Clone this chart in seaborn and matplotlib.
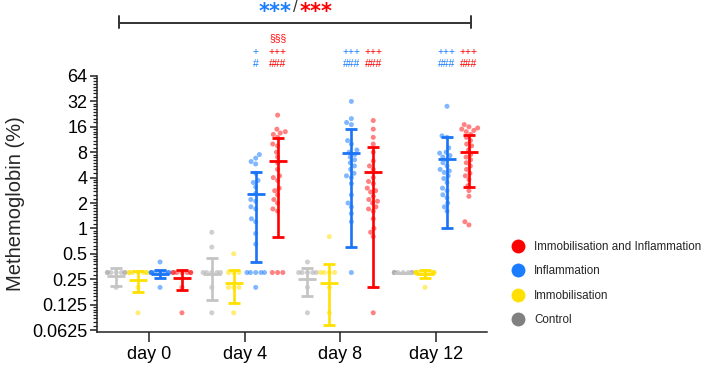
import warnings
warnings.filterwarnings("ignore")
import numpy as np
import pandas as pd
import matplotlib
matplotlib.use("Agg")
import matplotlib.pyplot as plt
from matplotlib.lines import Line2D
import seaborn as sns

# ---------------- data ----------------
days = ["day 0", "day 4", "day 8", "day 12"]
groups = ["Control", "Immobilisation", "Inflammation", "Immobilisation and Inflammation"]

control_vals = [
    [0.3, 0.3, 0.3, 0.3, 0.3, 0.3, 0.3, 0.2],
    [0.9, 0.6, 0.3, 0.3, 0.3, 0.3, 0.3, 0.2, 0.1],
    [0.4, 0.3, 0.3, 0.3, 0.3, 0.3, 0.2, 0.1],
    [0.3, 0.3, 0.3, 0.3, 0.3, 0.3, 0.3, 0.3],
]
immob_vals = [
    [0.3, 0.3, 0.3, 0.3, 0.3, 0.3, 0.3, 0.2, 0.1],
    [0.5, 0.3, 0.3, 0.3, 0.2, 0.2, 0.2, 0.1],
    [0.8, 0.3, 0.3, 0.3, 0.3, 0.2, 0.1],
    [0.3, 0.3, 0.3, 0.3, 0.3, 0.3, 0.3, 0.3, 0.3, 0.3, 0.2],
]
inflam_vals = [
    [0.4, 0.3, 0.3, 0.3, 0.3, 0.3, 0.3, 0.3, 0.3, 0.2],
    [7.5, 6.8, 6.2, 5.8, 4.5, 3.7, 3.5, 3.1, 2.6, 2.2, 2.1, 1.8, 1.7, 1.3,
     1.2, 0.87, 0.65, 0.3, 0.3, 0.3, 0.3, 0.3, 0.2],
    [32, 20, 18, 17, 11, 10, 8.5, 8, 7.5, 7, 6.5, 6, 5.5, 5, 4.5, 4.2, 4,
     3.4, 2.5, 2, 1.8, 1.5, 1.2, 0.3],
    [28, 12.5, 12, 9, 8, 7.8, 7.3, 7, 6.5, 6, 5.5, 5, 4.8, 4.6, 4.2, 3.9,
     3.5, 3.0, 2.8, 2.5, 2.3, 2.0, 1.8, 1.6],
]
imm_inf_vals = [
    [0.3, 0.3, 0.3, 0.3, 0.3, 0.3, 0.3, 0.2, 0.1],
    [22, 15, 14, 13.5, 13, 12, 10, 9.5, 8, 7, 6, 5, 4.2, 4.0, 3.7, 3.0,
     2.8, 2.5, 2.2, 2.0, 1.7, 1.6, 0.3, 0.3, 0.3],
    [19, 15, 12, 10, 8, 6.3, 5.5, 5, 4, 3.6, 3.4, 3, 2.8, 2.7, 2.4, 2.2,
     2.1, 2, 1.8, 1.7, 1.6, 1.3, 1.0, 0.9, 0.8, 0.1],
    [17, 16, 15.5, 15, 14.5, 14, 13, 12, 11, 10, 9.5, 8.5, 7.5, 7, 6.5, 6,
     5.5, 5, 4.5, 4.2, 3.8, 3.2, 2.8, 2.4, 1.2, 1.1],
]

# mean and SD shown by the error bars
control_mean = [0.27, 0.29, 0.25, 0.30]
control_sd = [0.065, 0.15, 0.09, 0.0]
immob_mean = [0.245, 0.225, 0.225, 0.29]
immob_sd = [0.068, 0.095, 0.153, 0.03]
inflam_mean = [0.29, 2.55, 7.9, 6.6]
inflam_sd = [0.03, 2.15, 7.3, 5.6]
imm_inf_mean = [0.255, 6.35, 4.7, 8.0]
imm_inf_sd = [0.07, 5.55, 4.5, 4.9]

ytick_vals = [0.0625, 0.125, 0.25, 0.5, 1, 2, 4, 8, 16, 32, 64]
ytick_labels = ["0.0625", "0.125", "0.25", "0.5", "1", "2", "4", "8", "16", "32", "64"]

# significance labels (group, day index, lines from top to bottom)
annotations = [
    ("Inflammation", 1, ["", "+", "#"]),
    ("Immobilisation and Inflammation", 1, ["§§§", "+++", "###"]),
    ("Inflammation", 2, ["", "+++", "###"]),
    ("Immobilisation and Inflammation", 2, ["", "+++", "###"]),
    ("Inflammation", 3, ["", "+++", "###"]),
    ("Immobilisation and Inflammation", 3, ["", "+++", "###"]),
]

# ---------------- styling ----------------
sns.set_style("ticks")
plt.rcParams["font.family"] = ["Liberation Sans", "DejaVu Sans"]

offsets = {"Control": -0.344, "Immobilisation": -0.115,
           "Inflammation": 0.115, "Immobilisation and Inflammation": 0.344}
point_colors = {"Control": "#a8a8a8", "Immobilisation": "#ffe000",
                "Inflammation": "#1a7cff", "Immobilisation and Inflammation": "#ff1a1a"}
bar_colors = {"Control": "#c4c4c4", "Immobilisation": "#ffe000",
              "Inflammation": "#1a74f5", "Immobilisation and Inflammation": "#ff0000"}
legend_colors = {"Control": "#808080", "Immobilisation": "#ffe000",
                 "Inflammation": "#1a7cff", "Immobilisation and Inflammation": "#ff0000"}

vals = {"Control": control_vals, "Immobilisation": immob_vals,
        "Inflammation": inflam_vals, "Immobilisation and Inflammation": imm_inf_vals}
means = {"Control": control_mean, "Immobilisation": immob_mean,
         "Inflammation": inflam_mean, "Immobilisation and Inflammation": imm_inf_mean}
sds = {"Control": control_sd, "Immobilisation": immob_sd,
       "Inflammation": inflam_sd, "Immobilisation and Inflammation": imm_inf_sd}

rows = []
for g in groups:
    for di, day_vals in enumerate(vals[g]):
        for v in day_vals:
            rows.append({"group": g, "day": days[di], "pos": di + offsets[g], "value": v})
df = pd.DataFrame(rows)

W, H = 708, 368
fig = plt.figure(figsize=(W / 100, H / 100), dpi=100)
ax = fig.add_axes([97 / W, 1 - 332 / H, 390 / W, 256 / H])

sns.swarmplot(data=df, x="pos", y="value", hue="group", hue_order=groups,
              palette=point_colors, native_scale=True, orient="x",
              log_scale=(False, 2), size=3.6, alpha=0.55, linewidth=0,
              legend=False, ax=ax, zorder=2)

for g in groups:
    xs = np.arange(len(days)) + offsets[g]
    ax.errorbar(xs, means[g], yerr=sds[g], fmt="_", ms=13.3, mew=2.0,
                color=bar_colors[g], ecolor=bar_colors[g], elinewidth=1.9,
                capsize=4.3, capthick=1.9, zorder=3)

ax.set_yscale("log", base=2)
ax.set_ylim(2 ** (-104 / 25.5), 64)
ax.set_xlim(-0.544, 3.533)
ax.set_yticks(ytick_vals)
ax.set_yticklabels(ytick_labels)
minor = []
for k in range(-5, 6):
    for i in range(1, 8):
        v = 2.0 ** k * (1 + i / 8)
        if 2 ** (-104 / 25.5) < v < 64:
            minor.append(v)
ax.set_yticks(minor, minor=True)
ax.yaxis.set_minor_formatter(matplotlib.ticker.NullFormatter())
ax.set_xticks(range(len(days)))
ax.set_xticklabels(days)
ax.set_xlabel("")
ax.set_ylabel("Methemoglobin (%)", fontsize=14.5, labelpad=5)

for s in ["top", "right"]:
    ax.spines[s].set_visible(False)
for s in ["left", "bottom"]:
    ax.spines[s].set_linewidth(1.1)
    ax.spines[s].set_color("#222222")
ax.tick_params(axis="both", which="major", labelsize=13, length=5, width=1.1,
               color="#222222", labelcolor="black", pad=2)
ax.tick_params(axis="x", which="major", length=7, pad=3)
ax.tick_params(axis="y", which="minor", length=3, width=0.9, color="#222222")

# legend
handles = [Line2D([0], [0], marker="o", linestyle="none", markersize=10,
                  markerfacecolor=legend_colors[g], markeredgewidth=0)
           for g in groups[::-1]]
fig.legend(handles, groups[::-1], loc="center left",
           bbox_to_anchor=(511.8 / W, 1 - 283.5 / H), frameon=False,
           fontsize=8.4, handlelength=1.0, handletextpad=0.9,
           labelspacing=1.05, borderpad=0, borderaxespad=0)

# significance annotations
ann_y = [38, 52, 64]
for g, di, lines in annotations:
    for txt, yy in zip(lines, ann_y):
        if txt:
            ax.annotate(txt, xy=(di + offsets[g], 1 - yy / H),
                        xycoords=("data", "figure fraction"), ha="center",
                        va="center", fontsize=7.5, color=legend_colors[g],
                        annotation_clip=False)

# bracket
xl, xr = -0.31, 3.37
yb, yt, ybot = 1 - 22.7 / H, 1 - 16 / H, 1 - 28 / H
trans = matplotlib.transforms.blended_transform_factory(ax.transData, fig.transFigure)
ax.plot([xl, xr], [yb, yb], transform=trans, color="#333333", lw=1.4, clip_on=False)
ax.plot([xl, xl], [yt, ybot], transform=trans, color="#333333", lw=1.4, clip_on=False)
ax.plot([xr, xr], [yt, ybot], transform=trans, color="#333333", lw=1.4, clip_on=False)
mid = (xl + xr) / 2
ax.annotate("/", xy=(mid, 1 - 8 / H), xycoords=("data", "figure fraction"),
            ha="center", va="center", fontsize=12, color="#333333", annotation_clip=False)
ax.annotate("***", xy=(mid, 1 - 8 / H), xycoords=("data", "figure fraction"),
            xytext=(-3, -3), textcoords="offset points", ha="right", va="center",
            fontsize=15, fontweight="bold", color="#1a7cff", family="DejaVu Sans",
            annotation_clip=False)
ax.annotate("***", xy=(mid, 1 - 8 / H), xycoords=("data", "figure fraction"),
            xytext=(3, -3), textcoords="offset points", ha="left", va="center",
            fontsize=15, fontweight="bold", color="#ff0000", family="DejaVu Sans",
            annotation_clip=False)

fig.savefig("out.png", dpi=100)
